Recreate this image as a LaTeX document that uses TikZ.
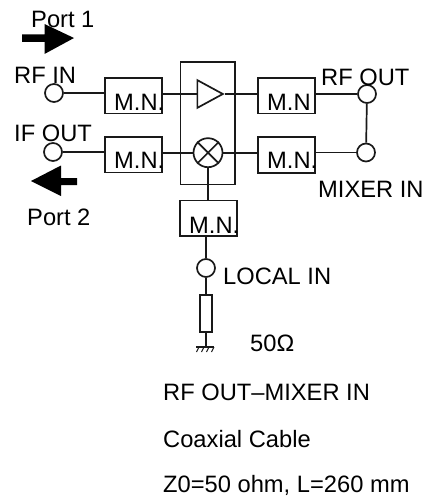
\documentclass[tikz,border=0pt]{standalone}
\usepackage{fontspec}
\setmainfont{Liberation Sans}
\usetikzlibrary{shapes.geometric}
\tikzset{
  wire/.style={line width=1.7pt,black!90},
  mn/.style={draw=black!90,line width=1.7pt,rectangle,minimum width=57pt,minimum height=35.5pt,inner sep=0pt},
  port/.style={draw=black!90,line width=1.7pt,circle,minimum size=18pt,inner sep=0pt},
  txt/.style={anchor=base west,inner sep=0pt,font=\fontsize{23.7}{24}\selectfont,text=black},
  bigarrow/.style={fill=black,draw=none}
}
\begin{document}
\begin{tikzpicture}[x=1pt,y=-1pt]
\useasboundingbox (0,0) rectangle (437,497);
% block
\node[draw=black!90,line width=1.7pt,rectangle,minimum width=54.5pt,minimum height=122.5pt,inner sep=0pt] (chip) at (207.75,123.25) {};
% matching networks
\node[mn] (mna) at (133.5,95.75) {};
\node[mn] (mnb) at (133.5,154.75) {};
\node[mn] (mnc) at (286.5,95.75) {};
\node[mn] (mnd) at (286.5,155) {};
\node[mn] (mne) at (208.25,218.2) {};
% ports
\node[port] (rfin) at (54,93) {};
\node[port] (ifout) at (53,152) {};
\node[port] (rfout) at (367,94) {};
\node[port] (mixin) at (366,152.5) {};
\node[port] (local) at (206,268) {};
% amplifier
\node[draw=black!90,line width=1.7pt,isosceles triangle,isosceles triangle apex angle=57,minimum height=25.5pt,inner sep=0pt,anchor=lower side] (amp) at (196.5,94) {};
% mixer
\node[draw=black!90,line width=1.7pt,circle,minimum size=29pt,inner sep=0pt] (mix) at (208,152.7) {};
\draw[wire] (mix.north west) -- (mix.south east) (mix.north east) -- (mix.south west);
% resistor
\node[draw=black!90,line width=1.7pt,rectangle,minimum width=11.7pt,minimum height=37.3pt,inner sep=0pt] (res) at (205.8,313.3) {};
\coordinate (gnd) at (205.8,347);
% connectors
\draw[wire] (rfin) -- (mna.west|-rfin);
\draw[wire] (ifout) -- (mnb.west|-ifout);
\draw[wire] (mna.east|-amp.lower side) -- (amp.lower side);
\draw[wire] (mnb.east|-mix) -- (mix);
\draw[wire] (amp.apex) -- (mnc.west|-amp.apex);
\draw[wire] (mix) -- (mnd.west|-mix);
\draw[wire] (mnc.east|-rfout) -- (rfout);
\draw[wire] (mnd.east|-mixin) -- (mixin);
\draw[wire] (rfout) -- (mixin);
\draw[wire] (mix) -- (mix|-mne.north);
\draw[wire] (local|-mne.south) -- (local);
\draw[wire] (local) -- (local|-res.north);
\draw[wire] (res) -- (gnd);
% ground
\draw[wire] (196,347) -- (214,347);
\draw[line width=1.1pt,black!90] (199,347) -- (196.5,352) (204,347) -- (201.5,352) (209,347) -- (206.5,352) (214,347) -- (211.5,352);
% arrows
\fill[bigarrow] (22,34.5) -- (44.5,34.5) -- (44.5,24) -- (74,38) -- (44.5,54) -- (44.5,42) -- (22,42) -- cycle;
\fill[bigarrow] (77,178) -- (61,178) -- (61,165.5) -- (31,181) -- (61,196) -- (61,185) -- (77,185) -- cycle;
% labels
\node[txt] (t1) at (31,28) {Port 1};
\node[txt] (t2) at (14,84) {RF IN};
\node[txt] (t3) at (14,142) {IF OUT};
\node[txt] (t4) at (27,225) {Port 2};
\node[txt] (t5) at (321,86) {RF OUT};
\node[txt] (t6) at (318,197) {MIXER IN};
\node[txt] (t7) at (223,284) {LOCAL IN};
\node[txt] (t8) at (250,351) {50Ω};
\node[txt] (t9) at (163,400) {RF OUT–MIXER IN};
\node[txt] (t10) at (163,447.7) {Coaxial Cable};
\node[txt] (t11) at (163,492.5) {Z0=50 ohm, L=260 mm};
\node[txt] (m1) at (114,111) {M.N.};
\node[txt] (m2) at (114,168) {M.N.};
\node[txt] (m3) at (267,111) {M.N};
\node[txt] (m4) at (267,168) {M.N.};
\node[txt] (m5) at (189,233) {M.N.};
\end{tikzpicture}
\end{document}
